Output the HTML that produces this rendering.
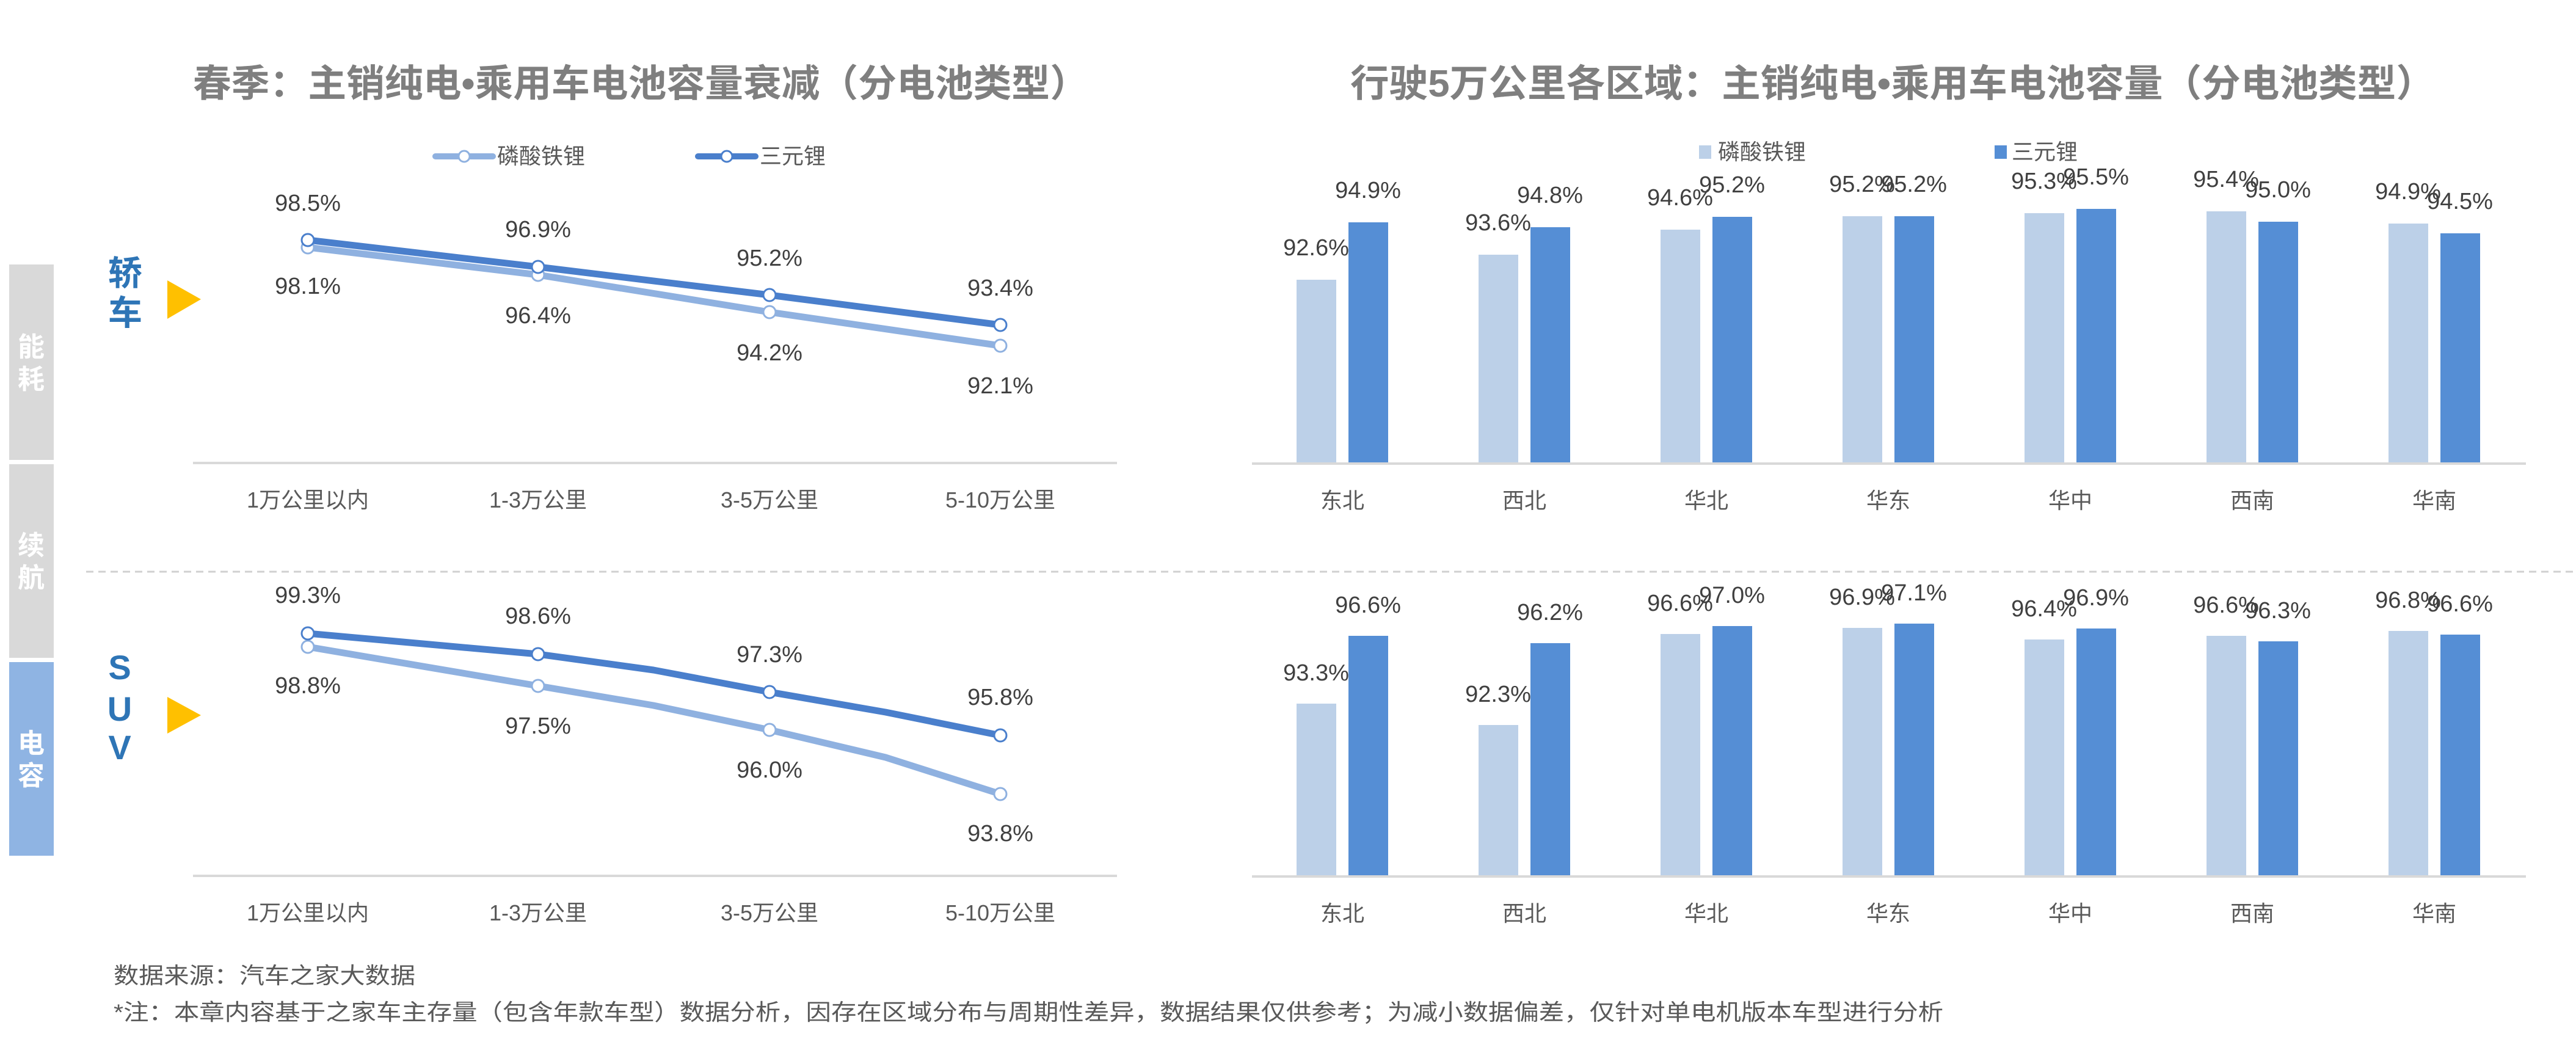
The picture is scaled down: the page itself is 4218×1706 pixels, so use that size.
<!DOCTYPE html>
<html><head><meta charset="utf-8"><style>
html,body{margin:0;padding:0;background:#fff;}
svg{display:block;font-family:"Liberation Sans","Noto Sans CJK SC",sans-serif;}
</style></head><body>
<svg width="4218" height="1706" viewBox="0 0 4218 1706" xmlns="http://www.w3.org/2000/svg">
<!-- titles -->
<text x="316" y="158" font-size="62" font-weight="bold" fill="#7f7f7f" textLength="1466" lengthAdjust="spacingAndGlyphs">春季：主销纯电•乘用车电池容量衰减（分电池类型）</text>
<text x="2211" y="158" font-size="62" font-weight="bold" fill="#7f7f7f" textLength="1776" lengthAdjust="spacingAndGlyphs">行驶5万公里各区域：主销纯电•乘用车电池容量（分电池类型）</text>

<!-- side bars -->
<rect x="15" y="433" width="73" height="320" fill="#d9d9d9"/>
<rect x="15" y="760" width="73" height="317" fill="#d9d9d9"/>
<rect x="15" y="1084" width="73" height="317" fill="#8fb4e3"/>
<g font-size="44" font-weight="bold" fill="#fff" text-anchor="middle">
<text x="51" y="583">能</text><text x="51" y="636">耗</text>
<text x="51" y="908">续</text><text x="51" y="961">航</text>
<text x="51" y="1232">电</text><text x="51" y="1285">容</text>
</g>
<g font-size="56" font-weight="bold" fill="#2e75b6" text-anchor="middle">
<text x="205" y="467">轿</text><text x="205" y="532">车</text>
<text x="196" y="1112">S</text><text x="196" y="1180">U</text><text x="196" y="1243">V</text>
</g>
<polygon points="274,459 329,490 274,522" fill="#ffc000"/>
<polygon points="274,1141 329,1171 274,1201" fill="#ffc000"/>

<!-- dashed separator -->
<line x1="141" y1="936" x2="4218" y2="936" stroke="#d0d0d0" stroke-width="3" stroke-dasharray="12,8"/>

<!-- left legend -->
<line x1="713" y1="256" x2="807" y2="256" stroke="#8fb1e0" stroke-width="10" stroke-linecap="round"/>
<circle cx="760" cy="256" r="9" fill="#fff" stroke="#8fb1e0" stroke-width="3"/>
<text x="814" y="268" font-size="36" fill="#595959">磷酸铁锂</text>
<line x1="1143" y1="256" x2="1237" y2="256" stroke="#4a7fcc" stroke-width="10" stroke-linecap="round"/>
<circle cx="1190" cy="256" r="9" fill="#fff" stroke="#4a7fcc" stroke-width="3"/>
<text x="1244" y="268" font-size="36" fill="#595959">三元锂</text>

<!-- left top chart -->
<line x1="316" y1="758" x2="1829" y2="758" stroke="#d9d9d9" stroke-width="4"/>
<polyline points="504,405 881,450 1260,511 1638,566" fill="none" stroke="#8fb1e0" stroke-width="11"/>
<polyline points="504,393 881,437 1260,483 1638,532" fill="none" stroke="#4a7fcc" stroke-width="11"/>
<g fill="#fff" stroke-width="3">
<circle cx="504" cy="405" r="10" stroke="#8fb1e0"/><circle cx="881" cy="450" r="10" stroke="#8fb1e0"/><circle cx="1260" cy="511" r="10" stroke="#8fb1e0"/><circle cx="1638" cy="566" r="10" stroke="#8fb1e0"/>
<circle cx="504" cy="393" r="10" stroke="#4a7fcc"/><circle cx="881" cy="437" r="10" stroke="#4a7fcc"/><circle cx="1260" cy="483" r="10" stroke="#4a7fcc"/><circle cx="1638" cy="532" r="10" stroke="#4a7fcc"/>
</g>
<g font-size="38" fill="#404040" text-anchor="middle">
<text x="504" y="345">98.5%</text><text x="881" y="388">96.9%</text><text x="1260" y="435">95.2%</text><text x="1638" y="484">93.4%</text>
<text x="504" y="481">98.1%</text><text x="881" y="529">96.4%</text><text x="1260" y="590">94.2%</text><text x="1638" y="644">92.1%</text>
</g>
<g font-size="36" fill="#595959" text-anchor="middle">
<text x="504" y="831">1万公里以内</text><text x="881" y="831">1-3万公里</text><text x="1260" y="831">3-5万公里</text><text x="1638" y="831">5-10万公里</text>
</g>

<!-- left bottom chart -->
<line x1="316" y1="1434" x2="1829" y2="1434" stroke="#d9d9d9" stroke-width="4"/>
<polyline points="504,1059 881,1123 1070,1155 1260,1195 1450,1240 1638,1300" fill="none" stroke="#8fb1e0" stroke-width="11" stroke-linejoin="round"/>
<polyline points="504,1037 881,1071 1070,1097 1260,1133 1450,1166 1638,1204" fill="none" stroke="#4a7fcc" stroke-width="11" stroke-linejoin="round"/>
<g fill="#fff" stroke-width="3">
<circle cx="504" cy="1059" r="10" stroke="#8fb1e0"/><circle cx="881" cy="1123" r="10" stroke="#8fb1e0"/><circle cx="1260" cy="1195" r="10" stroke="#8fb1e0"/><circle cx="1638" cy="1300" r="10" stroke="#8fb1e0"/>
<circle cx="504" cy="1037" r="10" stroke="#4a7fcc"/><circle cx="881" cy="1071" r="10" stroke="#4a7fcc"/><circle cx="1260" cy="1133" r="10" stroke="#4a7fcc"/><circle cx="1638" cy="1204" r="10" stroke="#4a7fcc"/>
</g>
<g font-size="38" fill="#404040" text-anchor="middle">
<text x="504" y="987">99.3%</text><text x="881" y="1021">98.6%</text><text x="1260" y="1084">97.3%</text><text x="1638" y="1154">95.8%</text>
<text x="504" y="1135">98.8%</text><text x="881" y="1201">97.5%</text><text x="1260" y="1273">96.0%</text><text x="1638" y="1377">93.8%</text>
</g>
<g font-size="36" fill="#595959" text-anchor="middle">
<text x="504" y="1507">1万公里以内</text><text x="881" y="1507">1-3万公里</text><text x="1260" y="1507">3-5万公里</text><text x="1638" y="1507">5-10万公里</text>
</g>

<!-- right legend -->
<rect x="2782" y="238" width="20" height="22" fill="#bcd0e8"/>
<text x="2813" y="261" font-size="36" fill="#595959">磷酸铁锂</text>
<rect x="3266" y="238" width="20" height="22" fill="#558ed5"/>
<text x="3294" y="261" font-size="36" fill="#595959">三元锂</text>

<!-- right top bars -->
<g fill="#bcd0e8">
<rect x="2123" y="458" width="65" height="301"/><rect x="2421" y="417" width="65" height="342"/><rect x="2719" y="376" width="65" height="383"/><rect x="3017" y="354" width="65" height="405"/><rect x="3315" y="349" width="65" height="410"/><rect x="3613" y="346" width="65" height="413"/><rect x="3911" y="366" width="65" height="393"/>
</g>
<g fill="#558ed5">
<rect x="2208" y="364" width="65" height="395"/><rect x="2506" y="372" width="65" height="387"/><rect x="2804" y="355" width="65" height="404"/><rect x="3102" y="354" width="65" height="405"/><rect x="3400" y="342" width="65" height="417"/><rect x="3698" y="363" width="65" height="396"/><rect x="3996" y="382" width="65" height="377"/>
</g>
<line x1="2050" y1="759" x2="4136" y2="759" stroke="#d9d9d9" stroke-width="4"/>
<g font-size="38" fill="#404040" text-anchor="middle">
<text x="2155" y="418">92.6%</text><text x="2453" y="377">93.6%</text><text x="2751" y="336">94.6%</text><text x="3049" y="314">95.2%</text><text x="3347" y="309">95.3%</text><text x="3645" y="306">95.4%</text><text x="3943" y="326">94.9%</text>
<text x="2240" y="324">94.9%</text><text x="2538" y="332">94.8%</text><text x="2836" y="315">95.2%</text><text x="3134" y="314">95.2%</text><text x="3432" y="302">95.5%</text><text x="3730" y="323">95.0%</text><text x="4028" y="342">94.5%</text>
</g>
<g font-size="36" fill="#595959" text-anchor="middle">
<text x="2198" y="832">东北</text><text x="2496" y="832">西北</text><text x="2794" y="832">华北</text><text x="3092" y="832">华东</text><text x="3390" y="832">华中</text><text x="3688" y="832">西南</text><text x="3986" y="832">华南</text>
</g>

<!-- right bottom bars -->
<g fill="#bcd0e8">
<rect x="2123" y="1152" width="65" height="283"/><rect x="2421" y="1187" width="65" height="248"/><rect x="2719" y="1038" width="65" height="397"/><rect x="3017" y="1028" width="65" height="407"/><rect x="3315" y="1047" width="65" height="388"/><rect x="3613" y="1041" width="65" height="394"/><rect x="3911" y="1033" width="65" height="402"/>
</g>
<g fill="#558ed5">
<rect x="2208" y="1041" width="65" height="394"/><rect x="2506" y="1053" width="65" height="382"/><rect x="2804" y="1025" width="65" height="410"/><rect x="3102" y="1021" width="65" height="414"/><rect x="3400" y="1029" width="65" height="406"/><rect x="3698" y="1050" width="65" height="385"/><rect x="3996" y="1039" width="65" height="396"/>
</g>
<line x1="2050" y1="1435" x2="4136" y2="1435" stroke="#d9d9d9" stroke-width="4"/>
<g font-size="38" fill="#404040" text-anchor="middle">
<text x="2155" y="1114">93.3%</text><text x="2453" y="1149">92.3%</text><text x="2751" y="1000">96.6%</text><text x="3049" y="990">96.9%</text><text x="3347" y="1009">96.4%</text><text x="3645" y="1003">96.6%</text><text x="3943" y="995">96.8%</text>
<text x="2240" y="1003">96.6%</text><text x="2538" y="1015">96.2%</text><text x="2836" y="987">97.0%</text><text x="3134" y="983">97.1%</text><text x="3432" y="991">96.9%</text><text x="3730" y="1012">96.3%</text><text x="4028" y="1001">96.6%</text>
</g>
<g font-size="36" fill="#595959" text-anchor="middle">
<text x="2198" y="1508">东北</text><text x="2496" y="1508">西北</text><text x="2794" y="1508">华北</text><text x="3092" y="1508">华东</text><text x="3390" y="1508">华中</text><text x="3688" y="1508">西南</text><text x="3986" y="1508">华南</text>
</g>

<!-- footer -->
<text x="186" y="1610" font-size="37" fill="#595959" textLength="494" lengthAdjust="spacingAndGlyphs">数据来源：汽车之家大数据</text>
<text x="186" y="1670" font-size="37" fill="#595959" textLength="2996" lengthAdjust="spacingAndGlyphs">*注：本章内容基于之家车主存量（包含年款车型）数据分析，因存在区域分布与周期性差异，数据结果仅供参考；为减小数据偏差，仅针对单电机版本车型进行分析</text>
</svg>
</body></html>
